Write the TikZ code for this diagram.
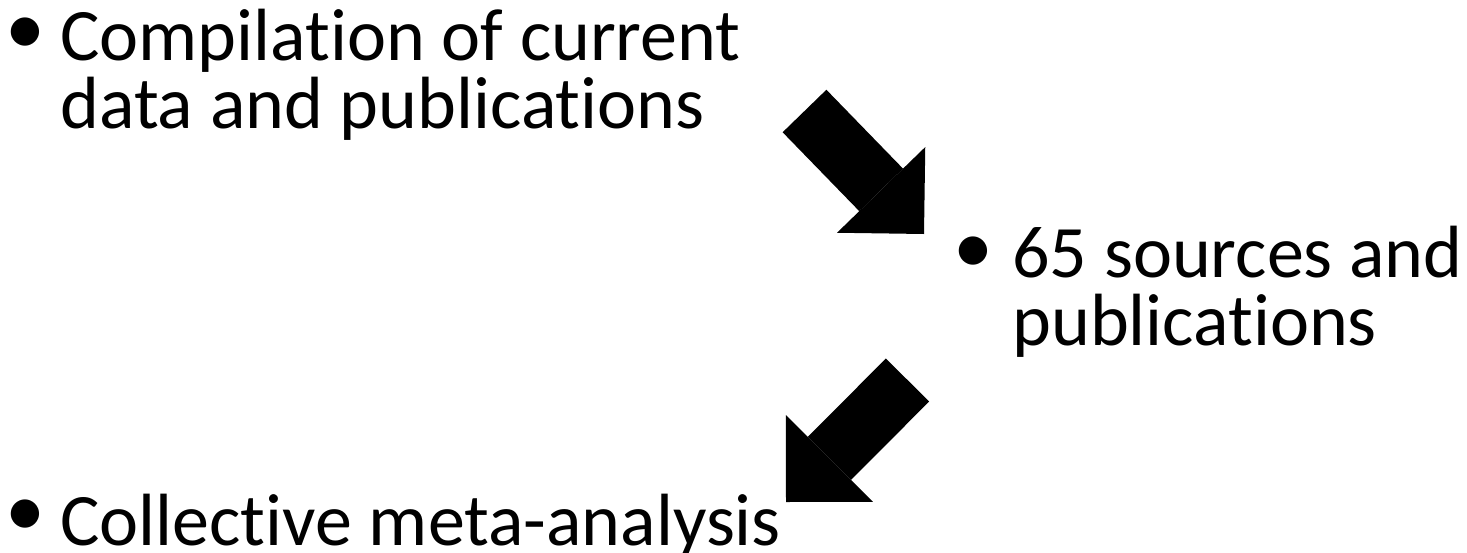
\documentclass[tikz,border=0pt]{standalone}
\usepackage{fontspec}
\setmainfont{Carlito}[Ligatures=NoCommon]
\usetikzlibrary{arrows.meta}

\begin{document}
\begin{tikzpicture}[x=0.5pt,y=-0.5pt,
    txt/.style={anchor=base west,inner sep=0pt,font=\fontsize{37}{37}\selectfont},
    dot/.style={anchor=base,inner sep=0pt,font=\fontsize{40}{40}\selectfont},
    bigarrow/.style={line width=30.5pt,-{Triangle[length=30.75pt,width=61.5pt,line width=0pt]}}]
  \useasboundingbox (0,0) rectangle (1467,552);

  % first item
  \node[dot] (b1) at (25,54) {•};
  \node[txt] (c1) at (60,60) {Compilation of current};
  \node[txt] (c2) at (60,128) {data and publications};

  % second item
  \node[dot] (b2) at (973,273) {•};
  \node[txt] (s1) at (1012,277) {65 sources and};
  \node[txt] (s2) at (1012,345) {publications};

  % third item
  \node[dot] (b3) at (25,536) {•};
  \node[txt] (m1) at (60,545) {Collective meta-analysis};

  % arrows
  \coordinate (a1s) at (804.5,111);
  \coordinate (a1e) at (924,234);
  \coordinate (a2s) at (907.5,380);
  \coordinate (a2e) at (786,502);
  \draw[bigarrow] (a1s) -- (a1e);
  \draw[bigarrow] (a2s) -- (a2e);
\end{tikzpicture}
\end{document}
